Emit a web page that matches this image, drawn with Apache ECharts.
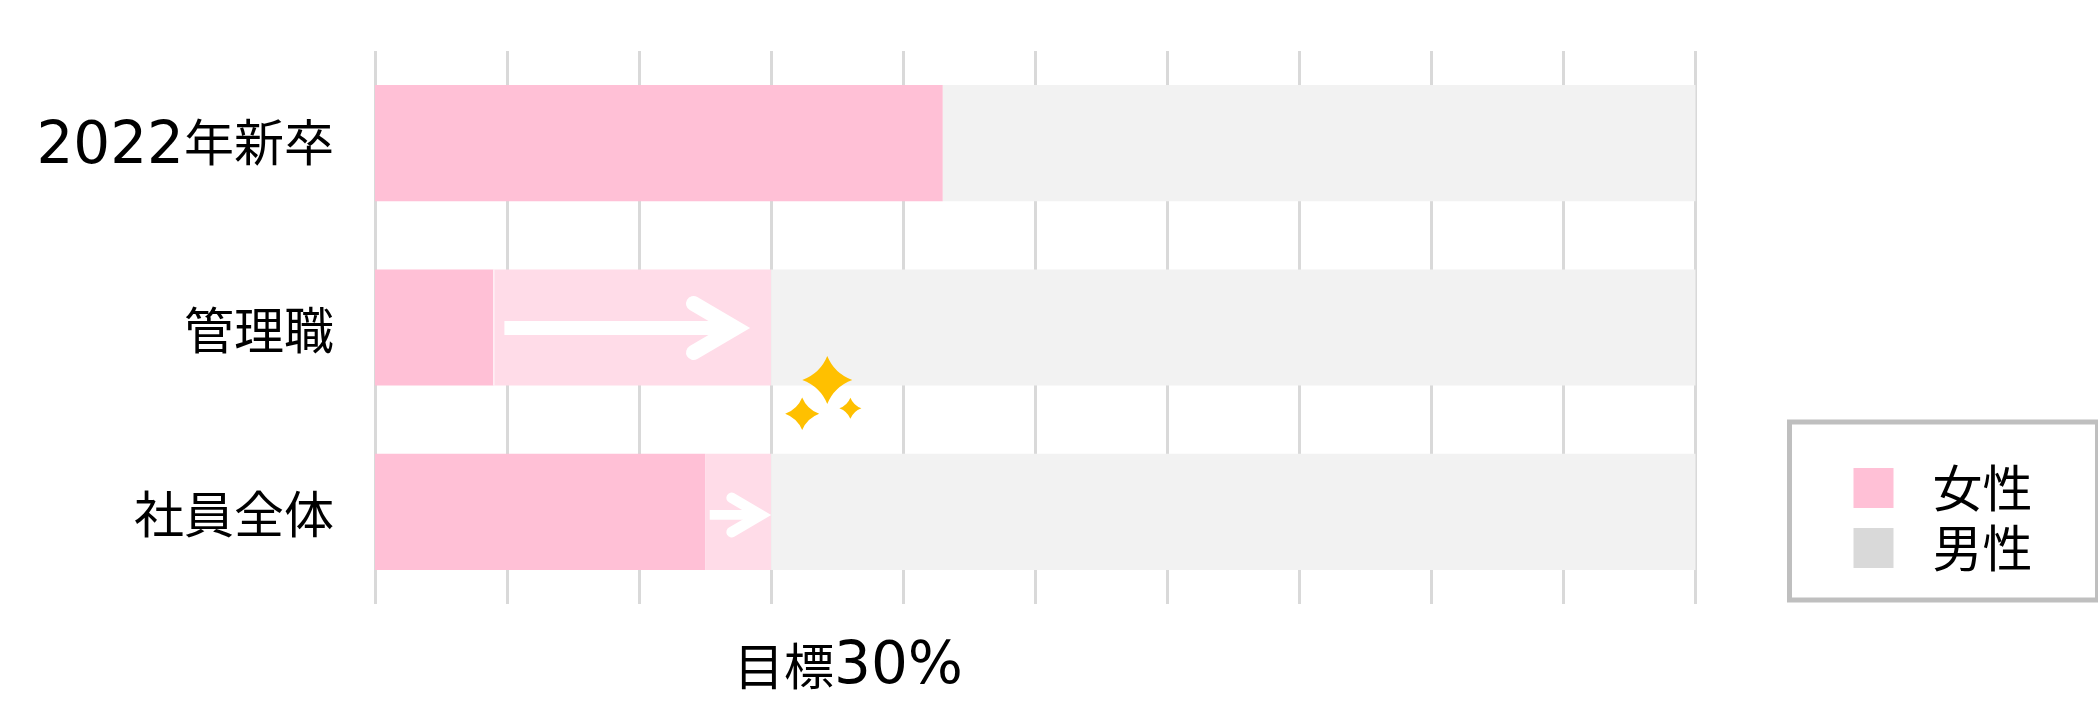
<!DOCTYPE html>
<html>
<head>
<meta charset="utf-8">
<style>html,body{margin:0;padding:0;background:#fff}#c{width:2098px;height:722px}</style>
<script src="https://cdn.jsdelivr.net/npm/echarts@6/dist/echarts.min.js"></script>
</head>
<body>
<div id="c"></div>
<script>
const categories = ['2022年新卒', '管理職', '社員全体'];
const femaleValues = [43, 9, 25];
const targetGapValues = [0, 21, 5];
const maleValues = [57, 70, 70];
const arrowStart = [9.8, 25.35];
const arrowEnd = [28.4, 30];
const arrowRow = [1.503, 2.517];
const arrowScale = [1, 0.7];
const sparkleX = [34.25, 32.35, 36.0];
const sparkleY = [1.785, 1.968, 1.938];
const sparkleScale = [1, 0.68, 0.44];
const dividerX = [9];
const dividerRow = [1];

const CJK = '"Noto Sans CJK JP","Noto Sans JP",sans-serif';
const rich = {
  d: {fontFamily: '"DejaVu Sans"', fontSize: 58, color: '#000', padding: [5, 0, 0, 0]},
  j: {fontFamily: CJK, fontSize: 50, color: '#000'},
  k: {fontFamily: CJK, fontSize: 50, color: '#000', padding: [0, 0, 6, 0]}
};
function starPath(cx, cy, w, h) {
  const c = 0.28;
  return `M${cx},${cy - h}Q${cx + c * w},${cy - c * h} ${cx + w},${cy}` +
         `Q${cx + c * w},${cy + c * h} ${cx},${cy + h}` +
         `Q${cx - c * w},${cy + c * h} ${cx - w},${cy}` +
         `Q${cx - c * w},${cy - c * h} ${cx},${cy - h}Z`;
}
const chart = echarts.init(document.getElementById('c'), null, {renderer: 'canvas'});
chart.setOption({
  animation: false,
  backgroundColor: '#fff',
  grid: {left: 375, right: 402.5, top: 51, bottom: 118, containLabel: false},
  legend: {
    left: 1789.5, top: 422, orient: 'vertical',
    data: ['女性', '男性'],
    icon: 'rect', itemWidth: 40, itemHeight: 40, itemGap: 10,
    padding: [41, 65, 27, 64],
    borderColor: '#BFBFBF', borderWidth: 5, backgroundColor: '#fff',
    selectedMode: false,
    textStyle: {fontFamily: CJK, fontSize: 50, color: '#000', lineHeight: 40, padding: [0, 0, 0, 34]}
  },
  xAxis: {
    type: 'value', min: 0, max: 100, interval: 10,
    axisLabel: {show: false}, axisTick: {show: false}, axisLine: {show: false},
    splitLine: {show: true, lineStyle: {color: '#D9D9D9', width: 3}}
  },
  yAxis: [{
    type: 'category', inverse: true, data: categories,
    axisTick: {show: false},
    axisLine: {show: false},
    splitLine: {show: false},
    axisLabel: {
      margin: 41,
      padding: [4, 0, 0, 0],
      rich,
      formatter: v => v.replace(/^(\d+)?(.*)$/, (m, a, b) => a ? `{d|${a}}{k|${b}}` : `{j|${b}}`)
    }
  }, {
    type: 'value', inverse: true, min: 0, max: 3, show: false, splitLine: {show: false}
  }],
  graphic: [{
    type: 'text', left: 734, top: 639, z: 10,
    style: {
      rich,
      text: '{j|目標}{d|30%}',
      fill: '#000'
    }
  }],
  series: [
    {name: '女性', type: 'bar', stack: 's', barCategoryGap: '37%', data: femaleValues,
     itemStyle: {color: '#FFC0D6'}},
    {name: '目標', type: 'bar', stack: 's', data: targetGapValues,
     itemStyle: {color: '#FFDCE8'}},
    {name: '男性', type: 'bar', stack: 's',
     data: maleValues.map(v => ({value: v, itemStyle: {color: '#F2F2F2'}})),
     itemStyle: {color: '#D9D9D9'}},
    {
      name: 'divider', type: 'custom', z: 4, silent: true,
      data: dividerX.map((x, i) => [x, dividerRow[i]]),
      encode: {x: 0, y: 1},
      renderItem(params, api) {
        const p = api.coord([api.value(0), api.value(1)]);
        const h = api.size([0, 1])[1] * 0.63;
        return {type: 'line', shape: {x1: p[0], y1: p[1] - h / 2, x2: p[0], y2: p[1] + h / 2},
          style: {stroke: '#fff', lineWidth: 1}};
      }
    },
    {
      name: 'arrows', type: 'custom', z: 5, silent: true, yAxisIndex: 1,
      data: arrowStart.map((s, i) => [s, arrowEnd[i], arrowRow[i], arrowScale[i]]),
      encode: {x: [0, 1], y: 2},
      renderItem(params, api) {
        const a = api.coord([api.value(0), api.value(2)]);
        const b = api.coord([api.value(1), api.value(2)]);
        const k = api.value(3);
        const tipX = b[0], y = a[1];
        const vx = tipX - 14.7 * k;
        return {type: 'group', children: [
          {type: 'line', shape: {x1: a[0], y1: y, x2: vx, y2: y},
           style: {stroke: '#fff', lineWidth: 14 * k}},
          {type: 'polyline',
           shape: {points: [[tipX - 56.5 * k, y - 24.5 * k], [vx, y], [tipX - 56.5 * k, y + 24.5 * k]]},
           style: {stroke: '#fff', fill: null, lineWidth: 15 * k, lineCap: 'round', lineJoin: 'miter', miterLimit: 10}}
        ]};
      }
    },
    {
      name: 'sparkles', type: 'custom', z: 6, silent: true, yAxisIndex: 1,
      data: sparkleX.map((x, i) => [x, sparkleY[i], sparkleScale[i]]),
      encode: {x: 0, y: 1},
      renderItem(params, api) {
        const p = api.coord([api.value(0), api.value(1)]);
        const k = api.value(2);
        const w = 25 * k, h = 24 * k;
        return {type: 'path',
          shape: {pathData: starPath(p[0], p[1], w, h), x: p[0] - w, y: p[1] - h, width: 2 * w, height: 2 * h, layout: 'cover'},
          style: {fill: '#FFC000'}};
      }
    }
  ]
});
</script>
</body>
</html>
